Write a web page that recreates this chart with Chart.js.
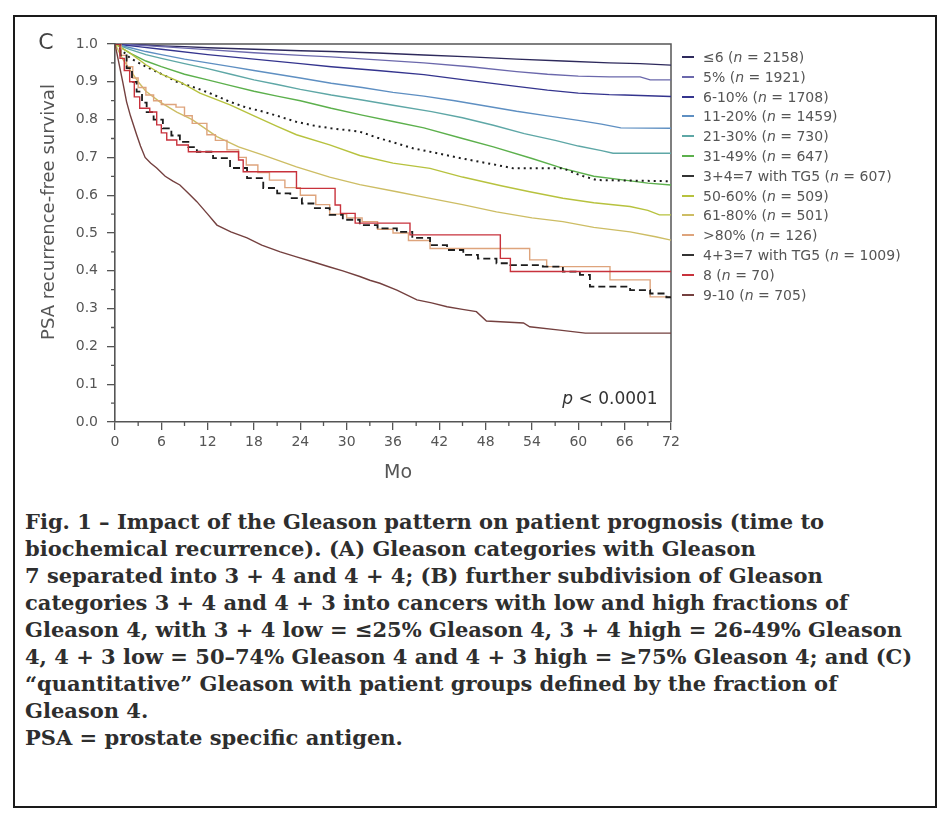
<!DOCTYPE html>
<html>
<head>
<meta charset="utf-8">
<script src="https://cdn.jsdelivr.net/npm/chart.js@4/dist/chart.umd.min.js"></script>
<style>
  html, body { margin: 0; padding: 0; background: #fff; }
  body { width: 947px; height: 813px; position: relative; overflow: hidden; font-family: "DejaVu Sans", sans-serif; color: #444; }
  #frame { position: absolute; left: 13px; top: 15px; width: 920px; height: 789px; border: 2px solid #1a1a1a; }
  #plot { position: absolute; left: 0; top: 0; }
  .abs { position: absolute; white-space: nowrap; line-height: 1; }
  .center { transform: translate(-50%, -50%); }
  #ytitle { left: 48px; top: 212px; font-size: 18px; color: #555; transform: translate(-50%, -50%) rotate(-90deg); }
  #xtitle { left: 398px; top: 471px; font-size: 19px; color: #555; }
  #panel { left: 46px; top: 42px; font-size: 22px; color: #444; }
  #pval { left: 610px; top: 398px; font-size: 17px; color: #333; }
  .legrow { position: absolute; left: 682px; height: 16px; white-space: nowrap; font-size: 14px; color: #555; }
  .legrow .swatch { position: absolute; left: 0; top: 7px; width: 12px; height: 2px; }
  .legrow .txt { position: absolute; left: 21px; top: 0; line-height: 16px; }
  #caption { position: absolute; left: 25px; top: 508px; font-family: "DejaVu Serif", serif; font-weight: bold; font-size: 21px; line-height: 27px; color: #2e2e2e; white-space: nowrap; }
</style>
</head>
<body>
<div id="frame"></div>
<canvas id="plot" width="947" height="500"></canvas>
<div class="abs" id="panel" style="transform:translate(-50%,-50%)">C</div>
<div class="abs" id="ytitle">PSA recurrence-free survival</div>
<div class="abs center" id="xtitle">Mo</div>
<div class="abs center" id="pval"><i>p</i> &lt; 0.0001</div>
<div id="legend"></div>
<div id="caption">
Fig. 1 – Impact of the Gleason pattern on patient prognosis (time to<br>
biochemical recurrence). (A) Gleason categories with Gleason<br>
7 separated into 3 + 4 and 4 + 4; (B) further subdivision of Gleason<br>
categories 3 + 4 and 4 + 3 into cancers with low and high fractions of<br>
Gleason 4, with 3 + 4 low = ≤25% Gleason 4, 3 + 4 high = 26-49% Gleason<br>
4, 4 + 3 low = 50–74% Gleason 4 and 4 + 3 high = ≥75% Gleason 4; and (C)<br>
“quantitative” Gleason with patient groups defined by the fraction of<br>
Gleason 4.<br>
PSA = prostate specific antigen.
</div>
<script>
// Group labels and patient counts, in legend order
const groups = ['≤6', '5%', '6-10%', '11-20%', '21-30%', '31-49%', '3+4=7 with TG5',
                '50-60%', '61-80%', '>80%', '4+3=7 with TG5', '8', '9-10'];
const counts = [2158, 1921, 1708, 1459, 730, 647, 607, 509, 501, 126, 1009, 70, 705];

// Axis ticks
const monthTicks = [0, 6, 12, 18, 24, 30, 36, 42, 48, 54, 60, 66, 72];
const survivalTicks = [0, 0.1, 0.2, 0.3, 0.4, 0.5, 0.6, 0.7, 0.8, 0.9, 1.0];

// Kaplan-Meier curves: [month, recurrence-free survival]
const gLe6 = [[0,1],[3,0.998],[6,0.995],[9,0.993],[12,0.99],[18,0.986],[24,0.982],[28,0.98],[34,0.976],[40,0.971],[46,0.966],[52,0.96],[58,0.955],[64,0.95],[68,0.948],[70,0.946],[72,0.944]];
const g5 = [[0,1],[3,0.997],[6,0.993],[12,0.985],[18,0.977],[24,0.97],[28,0.966],[34,0.958],[40,0.95],[46,0.94],[52,0.927],[56,0.92],[60,0.915],[64,0.913],[68,0.913],[69.3,0.905],[72,0.905]];
const g6to10 = [[0,1],[3,0.993],[6,0.986],[12,0.972],[18,0.96],[24,0.948],[28,0.94],[34,0.93],[40,0.919],[46,0.903],[52,0.888],[56,0.878],[60,0.87],[64,0.866],[66,0.865],[72,0.861]];
const g11to20 = [[0,1],[2,0.99],[4,0.98],[6,0.972],[9,0.96],[12,0.95],[15,0.94],[18,0.93],[21,0.92],[24,0.91],[28,0.896],[32,0.885],[36,0.872],[40,0.862],[44,0.85],[48,0.836],[52,0.822],[56,0.81],[60,0.798],[63,0.788],[65.5,0.778],[72,0.777]];
const g21to30 = [[0,1],[2,0.985],[4,0.972],[6,0.962],[9,0.948],[12,0.935],[15,0.92],[18,0.905],[21,0.893],[24,0.88],[28,0.865],[32,0.852],[36,0.838],[41,0.821],[45,0.805],[49,0.785],[53,0.763],[57,0.745],[60,0.73],[63,0.718],[64.5,0.711],[72,0.711]];
const g31to49 = [[0,1],[2,0.975],[4,0.955],[6,0.94],[9,0.92],[12,0.905],[15,0.89],[18,0.875],[21,0.862],[24,0.85],[28,0.83],[32,0.812],[36,0.795],[40,0.778],[45,0.75],[49,0.728],[54,0.697],[58,0.671],[62,0.65],[66,0.64],[69,0.632],[72,0.627]];
const g34tg5 = [[0,1],[2,0.962],[4,0.94],[6.3,0.918],[8,0.9],[10.6,0.883],[12.5,0.868],[14.9,0.847],[17,0.832],[19.2,0.821],[21,0.81],[23.5,0.794],[26,0.783],[28,0.777],[31.7,0.768],[34,0.752],[36.5,0.737],[38.6,0.724],[42,0.71],[45,0.697],[49.4,0.68],[51.6,0.671],[58,0.671],[60.2,0.653],[62.4,0.64],[72,0.637]];
const g50to60 = [[0,1],[2,0.975],[4,0.945],[6,0.92],[8.4,0.9],[11,0.87],[14.9,0.839],[18,0.81],[21,0.782],[23.5,0.76],[27.8,0.733],[31.7,0.705],[36,0.685],[40.8,0.671],[45,0.648],[50,0.625],[53.7,0.609],[58,0.592],[62,0.58],[66.7,0.57],[69,0.56],[70.5,0.548],[72,0.548]];
const g61to80 = [[0,1],[1,0.96],[2,0.93],[3,0.9],[4,0.875],[5.8,0.847],[8,0.82],[10,0.8],[13.2,0.755],[16,0.728],[19.2,0.706],[23.5,0.675],[27.8,0.648],[31.7,0.628],[36.5,0.609],[40,0.595],[45,0.575],[49.4,0.556],[54,0.54],[58,0.53],[62,0.515],[66.7,0.503],[70,0.49],[72,0.481]];
const gOver80 = [[0,1],[0.8,0.97],[1.5,0.94],[2.3,0.91],[3,0.885],[4,0.865],[5,0.85],[6,0.84],[7.9,0.833],[9,0.81],[10,0.79],[11.9,0.76],[13,0.745],[14.5,0.72],[16,0.7],[17,0.68],[18.5,0.66],[20,0.64],[22,0.62],[24,0.6],[26,0.575],[27.8,0.55],[30,0.54],[32,0.53],[34,0.51],[36,0.5],[38,0.48],[40.8,0.459],[53.7,0.429],[55.9,0.411],[64.1,0.376],[69.3,0.331],[72,0.331]];
const g43tg5 = [[0,1],[0.7,0.97],[1.5,0.936],[2.2,0.9],[2.8,0.874],[3.5,0.845],[4.1,0.82],[5,0.8],[6.2,0.777],[7.3,0.758],[8.4,0.741],[9.5,0.727],[10.6,0.715],[12.7,0.698],[14.9,0.672],[17.1,0.645],[19.2,0.619],[21,0.605],[22.7,0.592],[24.2,0.578],[25.7,0.566],[27.8,0.548],[29.5,0.535],[31.7,0.521],[34,0.512],[36.5,0.503],[38.5,0.487],[40.8,0.468],[43,0.455],[45.1,0.442],[47,0.432],[49.4,0.42],[51.2,0.415],[55.4,0.411],[58,0.398],[60.2,0.389],[61.5,0.358],[66.7,0.349],[69.3,0.34],[71.4,0.33],[72,0.33]];
const g8 = [[0,1],[0.65,0.962],[1.2,0.93],[1.9,0.9],[2.5,0.86],[3.2,0.83],[4.5,0.82],[5.4,0.786],[6,0.765],[6.7,0.746],[8,0.733],[9.5,0.715],[16,0.693],[16.6,0.662],[23.5,0.618],[28.5,0.574],[29.2,0.552],[31.1,0.526],[38.2,0.495],[49.9,0.433],[51.2,0.398],[72,0.398]];
const g9to10 = [[0,1],[0.5,0.95],[1,0.9],[1.5,0.847],[2,0.81],[2.8,0.76],[3.3,0.73],[3.9,0.7],[4.6,0.685],[5.4,0.672],[6.5,0.65],[7.5,0.637],[8.4,0.627],[9.5,0.605],[10.6,0.583],[12,0.55],[13.2,0.521],[15,0.503],[17.1,0.487],[19,0.468],[21.4,0.45],[23.5,0.437],[25.6,0.424],[27.8,0.41],[29.5,0.4],[31.7,0.385],[33,0.375],[34.3,0.367],[36.5,0.349],[39.1,0.323],[41,0.315],[43,0.305],[45,0.298],[46.8,0.292],[48.1,0.267],[52.9,0.262],[53.7,0.252],[57.6,0.243],[60.9,0.235],[72,0.235]];

const curves = [gLe6, g5, g6to10, g11to20, g21to30, g31to49, g34tg5, g50to60, g61to80, gOver80, g43tg5, g8, g9to10];

// Line styles per group
const lineColors = ['#2e2a5c', '#6b68ac', '#34348e', '#5e8fc2', '#5ea7a6', '#5cb04c', '#1c1c1c',
                    '#b7c23e', '#cdbd64', '#dea47c', '#1c1c1c', '#c8323c', '#74403f'];
const legendColors = ['#2e2a5c', '#6b68ac', '#34348e', '#5e8fc2', '#5ea7a6', '#5cb04c', '#333',
                      '#b7c23e', '#cdbd64', '#dea47c', '#333', '#c8323c', '#74403f'];
const dashes = { 6: [2, 4], 10: [7, 4] };
const widths = { 6: 2, 10: 1.8 };
const steppedGroups = new Set([9, 10, 11]);

// Legend
const legend = document.getElementById('legend');
groups.forEach((g, i) => {
  const row = document.createElement('div');
  row.className = 'legrow';
  row.style.top = (57 + 19.8 * i - 8) + 'px';
  const sw = document.createElement('div');
  sw.className = 'swatch';
  sw.style.background = legendColors[i];
  const tx = document.createElement('div');
  tx.className = 'txt';
  tx.innerHTML = g.replace('>', '&gt;') + ' (<i>n</i> = ' + counts[i] + ')';
  row.appendChild(sw); row.appendChild(tx);
  legend.appendChild(row);
});

// Top/right plot border and minor tick marks
const framePlugin = {
  id: 'plotFrame',
  beforeDatasetsDraw(chart) {
    const { ctx, chartArea: a } = chart;
    ctx.save();
    ctx.strokeStyle = '#555';
    ctx.lineWidth = 1.5;
    ctx.beginPath();
    ctx.moveTo(a.left, a.top);
    ctx.lineTo(a.right, a.top);
    ctx.lineTo(a.right, a.bottom);
    ctx.stroke();
    ctx.restore();
  },
  afterDraw(chart) {
    const { ctx, chartArea: a, scales } = chart;
    ctx.save();
    ctx.strokeStyle = '#555';
    ctx.lineWidth = 1.3;
    ctx.beginPath();
    for (let i = 0; i + 1 < monthTicks.length; i++) {
      const px = scales.x.getPixelForValue((monthTicks[i] + monthTicks[i + 1]) / 2);
      ctx.moveTo(px, a.bottom);
      ctx.lineTo(px, a.bottom + 4);
    }
    for (let i = 0; i + 1 < survivalTicks.length; i++) {
      const py = scales.y.getPixelForValue((survivalTicks[i] + survivalTicks[i + 1]) / 2);
      ctx.moveTo(a.left, py);
      ctx.lineTo(a.left - 4, py);
    }
    ctx.stroke();
    ctx.restore();
  }
};

const tickFont = { family: 'DejaVu Sans', size: 14 };

new Chart(document.getElementById('plot'), {
  type: 'line',
  data: {
    datasets: curves.map((c, i) => ({
      label: groups[i],
      data: c.map(p => ({ x: p[0], y: p[1] })),
      borderColor: lineColors[i],
      borderWidth: widths[i] || 1.4,
      borderDash: dashes[i] || [],
      stepped: steppedGroups.has(i) ? 'before' : false,
      pointRadius: 0,
      fill: false,
      tension: 0,
      order: 13 - i
    }))
  },
  options: {
    responsive: false,
    animation: false,
    devicePixelRatio: 1,
    layout: { padding: { left: 0, top: 44, right: 276, bottom: 38 } },
    plugins: { legend: { display: false }, tooltip: { enabled: false } },
    scales: {
      x: {
        type: 'linear', min: 0, max: 72,
        afterBuildTicks: s => { s.ticks = monthTicks.map(v => ({ value: v })); },
        afterFit: s => { s.height = 40; },
        grid: { drawOnChartArea: false, drawTicks: true, tickLength: 8, color: '#555', lineWidth: 1.3 },
        border: { display: true, color: '#555', width: 1.6 },
        ticks: { font: tickFont, color: '#555', padding: 4, maxRotation: 0, autoSkip: false, callback: v => String(v) }
      },
      y: {
        type: 'linear', min: 0, max: 1,
        afterBuildTicks: s => { s.ticks = survivalTicks.map(v => ({ value: v })); },
        afterFit: s => { s.width = 115; },
        grid: { drawOnChartArea: false, drawTicks: true, tickLength: 8, color: '#555', lineWidth: 1.3 },
        border: { display: true, color: '#555', width: 1.6 },
        ticks: { font: tickFont, color: '#555', padding: 9, autoSkip: false, callback: v => Number(v).toFixed(1) }
      }
    }
  },
  plugins: [framePlugin]
});
</script>
</body>
</html>
